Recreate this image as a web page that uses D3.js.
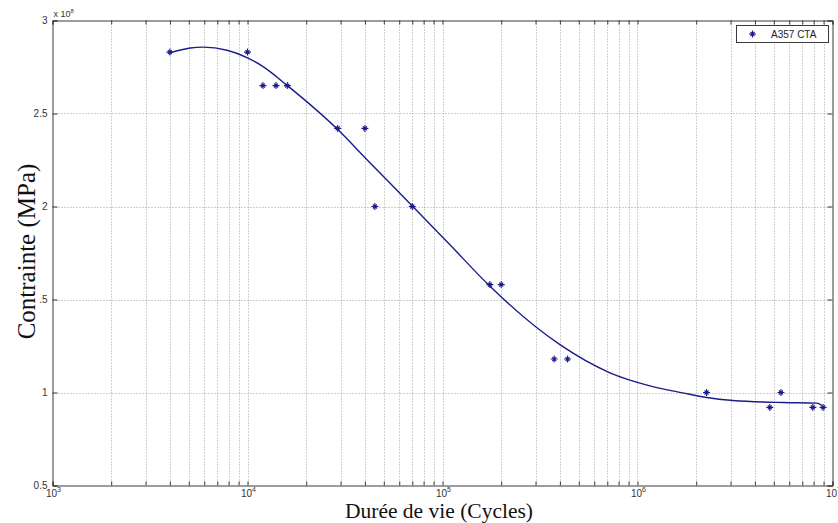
<!DOCTYPE html>
<html>
<head>
<meta charset="utf-8">
<script src="https://cdn.jsdelivr.net/npm/d3@7"></script>
<style>
  html, body { margin: 0; padding: 0; background: #fff; }
  svg { display: block; }
</style>
</head>
<body>
<svg id="chart" width="838" height="523"></svg>
<script>
// ---- data (stress in units of 1e8) ----
const cyclesPoints = [4000, 10000, 12000, 14000, 16000, 29000, 40000, 45000, 70000,
  175000, 200000, 374000, 438000, 2260000, 4770000, 5440000, 7930000, 8950000];
const stressPoints = [2.83, 2.83, 2.65, 2.65, 2.65, 2.42, 2.42, 2.0, 2.0,
  1.58, 1.58, 1.18, 1.18, 1.0, 0.92, 1.0, 0.92, 0.92];

// fitted curve
const curveCycles = [4000, 5080, 5920, 7860, 10070, 12020, 15960, 29130, 40530, 69800,
  109200, 175200, 305100, 400200, 722200, 1157600, 1708600, 2268000,
  3083000, 5564000, 8310000, 8815000];
const curveStress = [2.826, 2.852, 2.857, 2.840, 2.798, 2.752, 2.651, 2.412, 2.257, 2.004,
  1.794, 1.571, 1.348, 1.257, 1.106, 1.036, 0.998, 0.973,
  0.957, 0.946, 0.943, 0.931];

const xMajorExps = [3, 4, 5, 6, 7];
const xMinorMults = [2, 3, 4, 5, 6, 7, 8, 9];
const yTickValues = [0.5, 1, 1.5, 2, 2.5, 3];
const yTickLabels = ["0.5", "1", ".5", "2", "2.5", "3"];
const seriesName = "A357 CTA";
const xTitle = "Durée de vie (Cycles)";
const yTitle = "Contrainte (MPa)";
const yExponentLabel = "8";

// ---- layout ----
const L = 52.5, R = 832.5, T = 20.5, B = 485.5;
const svg = d3.select("#chart");
const x = d3.scaleLog().domain([1e3, 1e7]).range([L, R]);
const y = d3.scaleLinear().domain([0.5, 3]).range([B, T]);

const majors = xMajorExps.map(e => Math.pow(10, e));
const minors = [];
xMajorExps.slice(0, -1).forEach(e => xMinorMults.forEach(m => minors.push(m * Math.pow(10, e))));
const allX = majors.concat(minors);

const gridColor = "#8a8a8a";
const axisColor = "#3a3a3a";
const blue = "#1c1c8a";

// grid
const grid = svg.append("g");
grid.selectAll("line.vx").data(allX.filter(v => v > 1e3 && v < 1e7)).join("line")
  .attr("x1", d => Math.round(x(d)) + 0.5).attr("x2", d => Math.round(x(d)) + 0.5)
  .attr("y1", T).attr("y2", B)
  .attr("stroke", gridColor).attr("stroke-width", 0.8).attr("stroke-dasharray", "1,2");
grid.selectAll("line.hy").data(yTickValues.filter(v => v > 0.5 && v < 3)).join("line")
  .attr("x1", L).attr("x2", R)
  .attr("y1", d => Math.round(y(d)) + 0.5).attr("y2", d => Math.round(y(d)) + 0.5)
  .attr("stroke", gridColor).attr("stroke-width", 0.8).attr("stroke-dasharray", "1,2");

// axes with inward ticks
const tickLen = 4;
svg.append("g").attr("transform", `translate(0,${B})`)
  .call(d3.axisBottom(x).tickValues(allX).tickSize(-tickLen).tickFormat(""))
  .call(g => g.select(".domain").attr("stroke", axisColor))
  .call(g => g.selectAll(".tick line").attr("stroke", axisColor));
svg.append("g").attr("transform", `translate(0,${T})`)
  .call(d3.axisTop(x).tickValues(allX).tickSize(-tickLen).tickFormat(""))
  .call(g => g.select(".domain").attr("stroke", axisColor))
  .call(g => g.selectAll(".tick line").attr("stroke", axisColor));
svg.append("g").attr("transform", `translate(${L},0)`)
  .call(d3.axisLeft(y).tickValues(yTickValues).tickSize(-5).tickFormat(""))
  .call(g => g.select(".domain").attr("stroke", axisColor))
  .call(g => g.selectAll(".tick line").attr("stroke", axisColor));
svg.append("g").attr("transform", `translate(${R},0)`)
  .call(d3.axisRight(y).tickValues(yTickValues).tickSize(-5).tickFormat(""))
  .call(g => g.select(".domain").attr("stroke", axisColor))
  .call(g => g.selectAll(".tick line").attr("stroke", axisColor));

// x tick labels 10^n
const xl = svg.append("g").attr("font-family", "Liberation Sans, Arial, sans-serif").attr("fill", "#333");
xMajorExps.forEach(e => {
  const t = xl.append("text").attr("x", x(Math.pow(10, e)) + 1).attr("y", 497)
    .attr("font-size", 10).attr("text-anchor", "middle");
  t.append("tspan").text("10");
  t.append("tspan").attr("font-size", 7).attr("dy", -5).text(e);
});

// y tick labels
svg.append("g").selectAll("text").data(yTickValues).join("text")
  .attr("x", L - 5).attr("y", d => y(d) + 3.5)
  .attr("text-anchor", "end").attr("font-size", 10)
  .attr("font-family", "Liberation Sans, Arial, sans-serif").attr("fill", "#333")
  .text((d, i) => yTickLabels[i]);

// exponent label
const ex = svg.append("text").attr("x", L + 1).attr("y", 17)
  .attr("font-size", 9).attr("font-family", "Liberation Sans, Arial, sans-serif").attr("fill", "#333");
ex.append("tspan").text("x 10");
ex.append("tspan").attr("font-size", 6).attr("dy", -4).text(yExponentLabel);

// axis titles
svg.append("text").attr("x", 439).attr("y", 517.5)
  .attr("text-anchor", "middle").attr("font-family", "Liberation Serif, Times New Roman, serif")
  .attr("font-size", 21.5).attr("fill", "#111").text(xTitle);
svg.append("text").attr("transform", `translate(35,251.5) rotate(-90)`)
  .attr("text-anchor", "middle").attr("font-family", "Liberation Serif, Times New Roman, serif")
  .attr("font-size", 25).attr("fill", "#111").text(yTitle);

// curve
const curveData = curveCycles.map((c, i) => [c, curveStress[i]]);
svg.append("path").datum(curveData)
  .attr("d", d3.line().x(d => x(d[0])).y(d => y(d[1])).curve(d3.curveMonotoneX))
  .attr("fill", "none").attr("stroke", blue).attr("stroke-width", 1.4);

// markers (asterisk)
function asterisk(cx, cy) {
  const a = 3.5, b = 2.0;
  return `M${cx - a},${cy}L${cx + a},${cy}M${cx},${cy - a}L${cx},${cy + a}` +
    `M${cx - b},${cy - b}L${cx + b},${cy + b}M${cx - b},${cy + b}L${cx + b},${cy - b}`;
}
const pts = cyclesPoints.map((c, i) => [c, stressPoints[i]]);
svg.append("g").selectAll("path").data(pts).join("path")
  .attr("d", d => asterisk(x(d[0]), y(d[1])))
  .attr("stroke", blue).attr("stroke-width", 1.1).attr("fill", "none");

// legend
const lg = svg.append("g");
lg.append("rect").attr("x", 736.5).attr("y", 25.5).attr("width", 92).attr("height", 17)
  .attr("fill", "#fff").attr("stroke", axisColor).attr("stroke-width", 1);
lg.append("path").attr("d", asterisk(752.5, 34)).attr("stroke", blue).attr("stroke-width", 1.1).attr("fill", "none");
lg.append("text").attr("x", 771).attr("y", 37.5).attr("font-size", 10)
  .attr("font-family", "Liberation Sans, Arial, sans-serif").attr("fill", "#222").text(seriesName);
</script>
</body>
</html>
